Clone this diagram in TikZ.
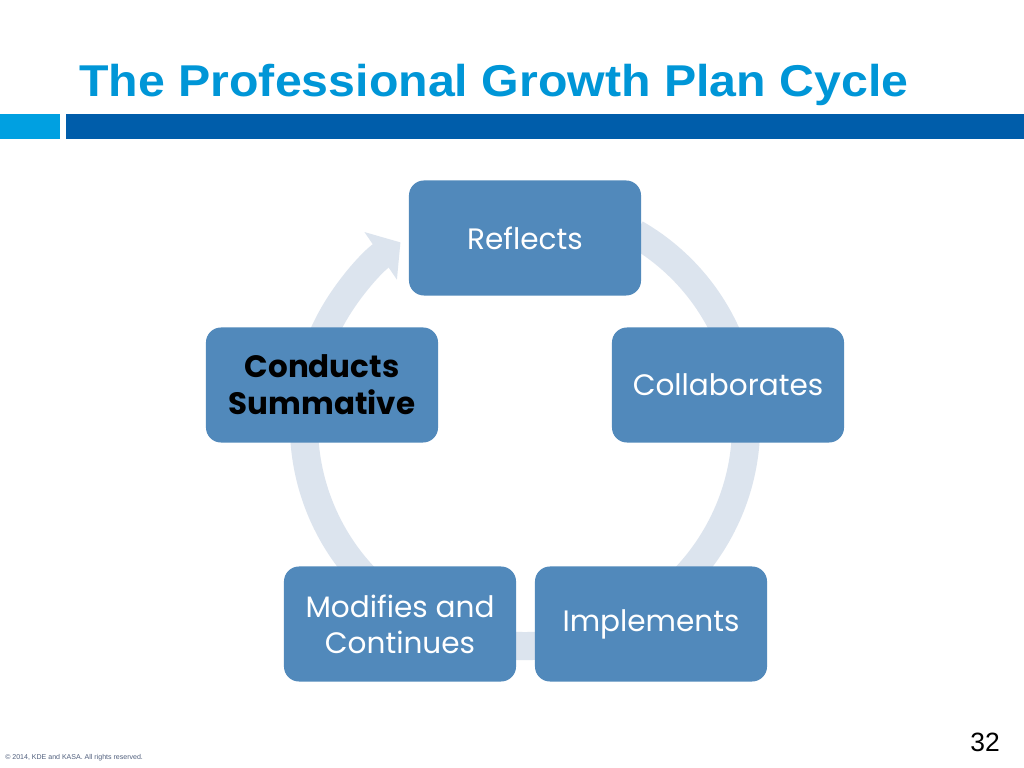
\documentclass[tikz,border=0pt]{standalone}
\usepackage{fontspec}
\setmainfont{Liberation Sans}
\newfontfamily\cyclefont{Poppins}
\usetikzlibrary{arrows.meta}

\definecolor{titleblue}{RGB}{0,150,215}
\definecolor{barlight}{RGB}{0,160,225}
\definecolor{bardark}{RGB}{0,93,170}
\definecolor{stageblue}{RGB}{81,137,187}
\definecolor{ringgray}{RGB}{220,228,238}
\definecolor{footgray}{RGB}{80,95,125}

\begin{document}
\begin{tikzpicture}[x=0.025cm,y=0.025cm,
    stage/.style={fill=stageblue,rounded corners=0.375cm,minimum width=5.8cm,
      minimum height=2.875cm,inner sep=0pt,align=center,text=white,
      font=\cyclefont\fontsize{21}{25.5}\selectfont}]
  \useasboundingbox[fill=white] (0,0) rectangle (1024,768);
  % title bar
  \fill[barlight] (0,629) rectangle (60,654);
  \fill[bardark] (66,629) rectangle (1024,654);
  \node[anchor=base west,inner sep=0pt,xscale=1.083,text=titleblue,
    font=\bfseries\fontsize{31.7}{36}\selectfont] (title) at (79,671)
    {The Professional Growth Plan Cycle};
  % ring behind the stages
  \coordinate (c) at (525,343);
  \draw[ringgray,line width=20pt,-{Triangle[length=17pt,width=40pt]}]
    (c) ++(60:5.525cm) arc[start angle=60,end angle=-235.7,radius=5.525cm];
  \foreach \name/\x/\y/\txt in {refl/525/530/{Reflects},
      collab/728/383/{Collaborates},
      impl/651/144/{Implements},
      modif/400/144/{Modifies and\\Continues}}{
    \node[stage] (\name) at (\x,\y) {\txt};
  }
  \node[stage,text=black,font=\cyclefont\bfseries\fontsize{22}{26.5}\selectfont]
    (summ) at (322,383) {Conducts\\Summative};
  % footer
  \node[anchor=base west,inner sep=0pt,text=footgray,font=\fontsize{5}{6}\selectfont]
    (copy) at (5,9) {\textcopyright{} 2014, KDE and KASA. All rights reserved.};
  \node[anchor=base east,inner sep=0pt,font=\fontsize{18.8}{22}\selectfont]
    (page) at (1000,16) {32};
\end{tikzpicture}
\end{document}
